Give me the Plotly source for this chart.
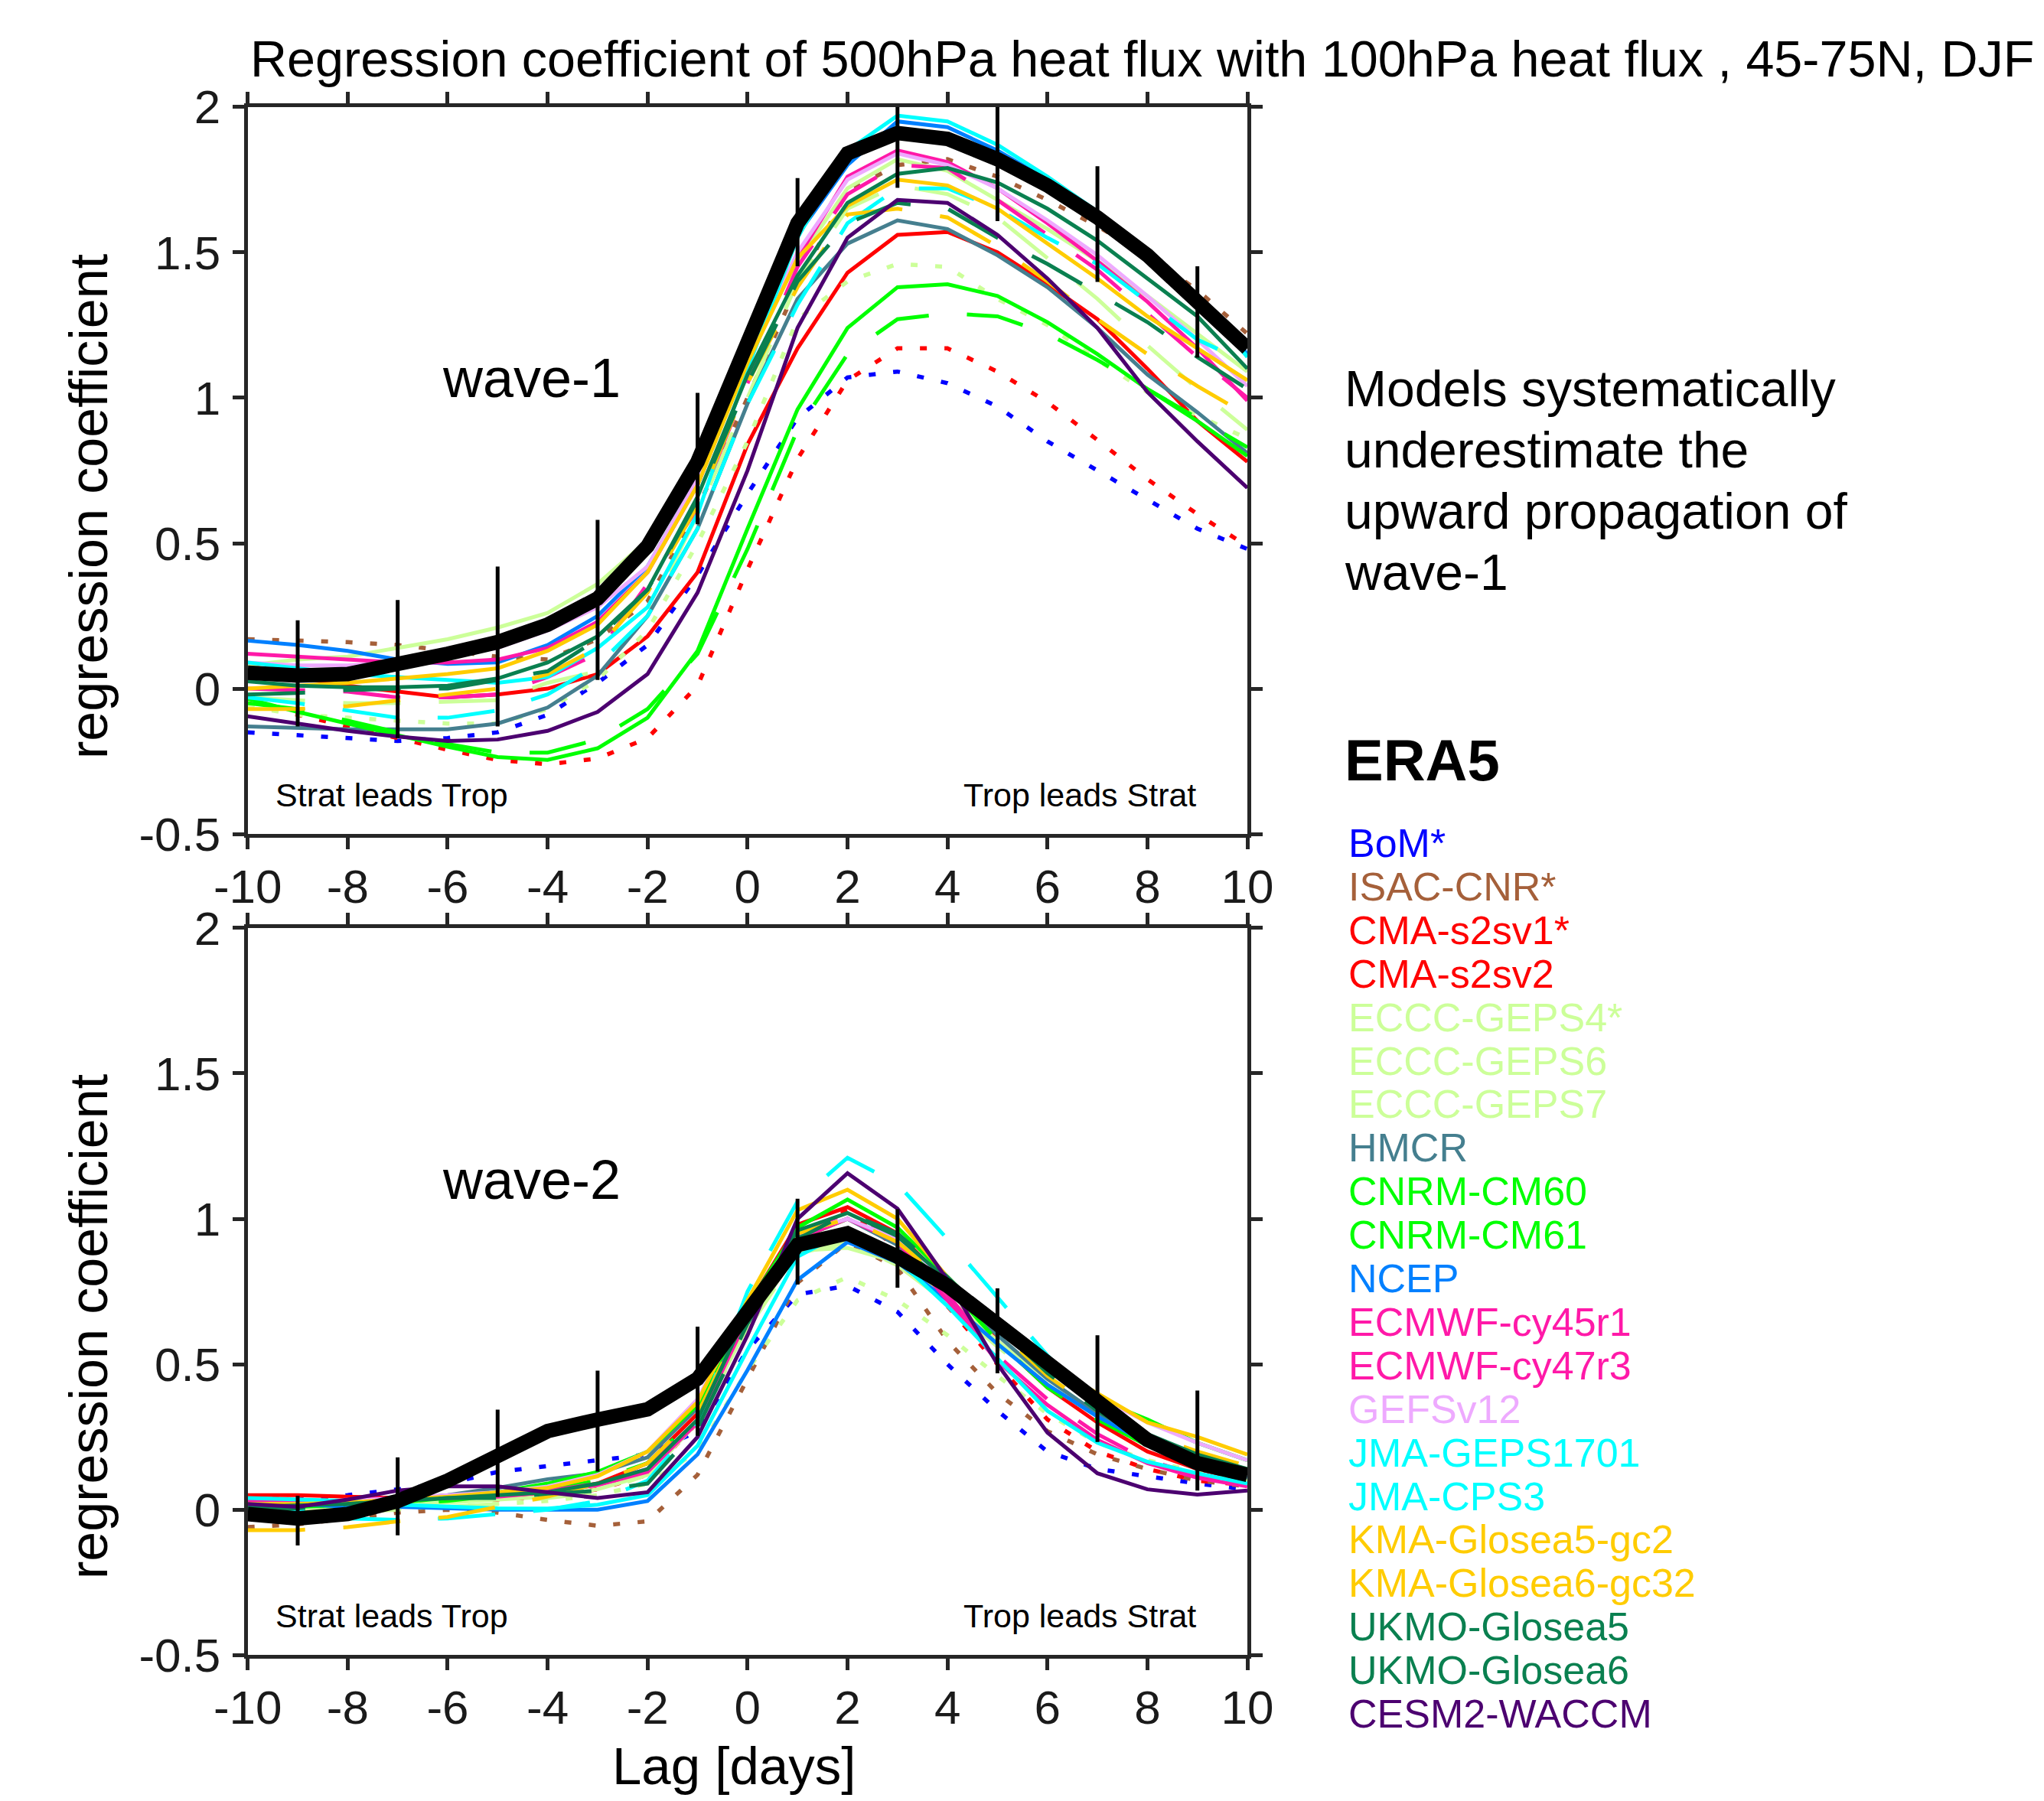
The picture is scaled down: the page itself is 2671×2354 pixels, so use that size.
import plotly.graph_objects as go

W, H = 2671, 2354

# ---------------- data ----------------
lags = list(range(-10, 11))
err_lags = [-9, -7, -5, -3, -1, 1, 3, 5, 7, 9]

model_names = ["BoM*", "ISAC-CNR*", "CMA-s2sv1*", "CMA-s2sv2", "ECCC-GEPS4*", "ECCC-GEPS6",
               "ECCC-GEPS7", "HMCR", "CNRM-CM60", "CNRM-CM61", "NCEP", "ECMWF-cy45r1",
               "ECMWF-cy47r3", "GEFSv12", "JMA-GEPS1701", "JMA-CPS3", "KMA-Glosea5-gc2",
               "KMA-Glosea6-gc32", "UKMO-Glosea5", "UKMO-Glosea6", "CESM2-WACCM"]

# wave-1 (top panel)
era5_w1 = [0.055, 0.045, 0.05, 0.08, 0.12, 0.16, 0.22, 0.31, 0.49, 0.78, 1.18, 1.60, 1.84, 1.91, 1.89, 1.82, 1.73, 1.62, 1.49, 1.33, 1.17]
era5_w1_lo = [-0.13, -0.17, -0.13, 0.03, 0.565, 1.452, 1.722, 1.607, 1.398, 1.138]
era5_w1_hi = [0.235, 0.305, 0.42, 0.58, 1.017, 1.755, 2.0, 2.0, 1.796, 1.452]
bom_w1 = [-0.15, -0.16, -0.17, -0.18, -0.17, -0.15, -0.09, 0.02, 0.15, 0.39, 0.67, 0.93, 1.07, 1.09, 1.05, 0.97, 0.85, 0.75, 0.65, 0.55, 0.48]
isac_w1 = [0.17, 0.165, 0.16, 0.15, 0.13, 0.11, 0.10, 0.17, 0.30, 0.62, 1.00, 1.39, 1.71, 1.80, 1.82, 1.76, 1.68, 1.59, 1.49, 1.37, 1.22]
cma1_w1 = [-0.05, -0.09, -0.13, -0.17, -0.21, -0.245, -0.26, -0.24, -0.17, 0.01, 0.41, 0.79, 1.06, 1.17, 1.17, 1.09, 0.985, 0.855, 0.72, 0.60, 0.49]
cma2_w1 = [0.08, 0.04, 0.01, -0.01, -0.03, -0.02, 0.0, 0.05, 0.18, 0.40, 0.84, 1.17, 1.43, 1.56, 1.57, 1.50, 1.39, 1.27, 1.10, 0.92, 0.78]
geps4_w1 = [-0.06, -0.09, -0.10, -0.11, -0.12, -0.12, -0.07, 0.03, 0.20, 0.50, 0.85, 1.27, 1.40, 1.46, 1.45, 1.34, 1.25, 1.13, 1.02, 0.94, 0.86]
geps6_w1 = [0.08, 0.10, 0.11, 0.14, 0.17, 0.21, 0.26, 0.36, 0.51, 0.80, 1.15, 1.47, 1.72, 1.82, 1.78, 1.68, 1.58, 1.47, 1.35, 1.22, 1.09]
geps7_w1 = [-0.03, -0.04, -0.05, -0.05, -0.045, -0.04, 0.02, 0.06, 0.25, 0.60, 1.00, 1.40, 1.65, 1.73, 1.70, 1.62, 1.48, 1.34, 1.18, 1.03, 0.89]
hmcr_w1 = [-0.13, -0.135, -0.14, -0.14, -0.14, -0.12, -0.065, 0.045, 0.25, 0.55, 0.98, 1.34, 1.53, 1.61, 1.58, 1.49, 1.38, 1.24, 1.08, 0.95, 0.81]
cm60_w1 = [-0.035, -0.08, -0.12, -0.16, -0.20, -0.235, -0.245, -0.205, -0.10, 0.13, 0.55, 0.96, 1.24, 1.38, 1.39, 1.35, 1.26, 1.15, 1.03, 0.92, 0.80]
cm61_w1 = [-0.05, -0.07, -0.11, -0.15, -0.19, -0.22, -0.22, -0.175, -0.07, 0.12, 0.48, 0.89, 1.15, 1.27, 1.29, 1.28, 1.22, 1.13, 1.03, 0.93, 0.83]
ncep_w1 = [0.165, 0.15, 0.13, 0.10, 0.085, 0.09, 0.15, 0.25, 0.42, 0.72, 1.15, 1.56, 1.80, 1.95, 1.93, 1.85, 1.75, 1.63, 1.50, 1.35, 1.15]
ec45_w1 = [0.12, 0.11, 0.10, 0.09, 0.09, 0.10, 0.14, 0.23, 0.40, 0.70, 1.13, 1.48, 1.76, 1.85, 1.81, 1.72, 1.60, 1.47, 1.33, 1.17, 0.99]
ec47_w1 = [0.0, -0.005, -0.01, -0.03, -0.03, -0.02, 0.04, 0.12, 0.36, 0.62, 1.05, 1.45, 1.70, 1.80, 1.79, 1.68, 1.56, 1.44, 1.29, 1.14, 1.00]
gefs_w1 = [0.09, 0.08, 0.08, 0.09, 0.11, 0.14, 0.20, 0.28, 0.42, 0.72, 1.13, 1.50, 1.75, 1.84, 1.80, 1.72, 1.61, 1.49, 1.35, 1.20, 1.04]
jmag_w1 = [-0.03, -0.05, -0.075, -0.10, -0.10, -0.075, -0.02, 0.08, 0.25, 0.55, 0.98, 1.32, 1.60, 1.72, 1.72, 1.65, 1.55, 1.46, 1.33, 1.20, 1.12]
jmac_w1 = [0.09, 0.07, 0.05, 0.04, 0.03, 0.02, 0.04, 0.14, 0.28, 0.60, 1.10, 1.55, 1.85, 1.97, 1.95, 1.87, 1.76, 1.64, 1.51, 1.35, 1.14]
kma5_w1 = [-0.07, -0.07, -0.06, -0.04, -0.02, 0.0, 0.05, 0.14, 0.33, 0.63, 1.05, 1.38, 1.63, 1.65, 1.62, 1.52, 1.40, 1.27, 1.15, 1.04, 0.94]
kma6_w1 = [0.0, 0.01, 0.02, 0.035, 0.05, 0.07, 0.13, 0.22, 0.40, 0.70, 1.12, 1.48, 1.66, 1.75, 1.73, 1.65, 1.53, 1.41, 1.28, 1.17, 1.06]
ukmo5_w1 = [-0.02, -0.015, -0.005, 0.0, 0.0, 0.03, 0.06, 0.17, 0.34, 0.65, 1.05, 1.40, 1.60, 1.67, 1.65, 1.55, 1.46, 1.36, 1.26, 1.14, 1.03]
ukmo6_w1 = [0.025, 0.01, 0.005, 0.005, 0.01, 0.035, 0.09, 0.18, 0.34, 0.66, 1.08, 1.42, 1.67, 1.77, 1.79, 1.74, 1.65, 1.54, 1.41, 1.28, 1.10]
cesm_w1 = [-0.095, -0.12, -0.145, -0.165, -0.18, -0.175, -0.145, -0.08, 0.05, 0.33, 0.75, 1.24, 1.55, 1.68, 1.67, 1.56, 1.41, 1.24, 1.02, 0.85, 0.69]

# wave-2 (bottom panel)
era5_w2 = [-0.015, -0.03, -0.015, 0.03, 0.10, 0.19, 0.27, 0.31, 0.345, 0.45, 0.68, 0.91, 0.95, 0.87, 0.77, 0.64, 0.51, 0.37, 0.24, 0.16, 0.12]
era5_w2_lo = [-0.123, -0.088, 0.044, 0.131, 0.254, 0.774, 0.763, 0.469, 0.233, 0.066]
era5_w2_hi = [0.048, 0.18, 0.344, 0.478, 0.629, 1.069, 1.033, 0.761, 0.60, 0.41]
bom_w2 = [0.03, 0.035, 0.05, 0.07, 0.09, 0.13, 0.15, 0.17, 0.19, 0.27, 0.55, 0.74, 0.77, 0.68, 0.50, 0.34, 0.20, 0.14, 0.115, 0.09, 0.07]
isac_w2 = [-0.06, -0.05, -0.03, -0.01, 0.0, -0.01, -0.035, -0.055, -0.04, 0.12, 0.45, 0.78, 0.92, 0.83, 0.58, 0.40, 0.27, 0.19, 0.14, 0.10, 0.08]
cma1_w2 = [0.04, 0.035, 0.03, 0.03, 0.03, 0.035, 0.045, 0.07, 0.12, 0.30, 0.65, 0.93, 1.03, 0.90, 0.70, 0.50, 0.31, 0.20, 0.14, 0.10, 0.085]
cma2_w2 = [0.05, 0.05, 0.045, 0.04, 0.04, 0.045, 0.06, 0.09, 0.16, 0.33, 0.70, 0.98, 1.04, 0.95, 0.78, 0.58, 0.42, 0.30, 0.20, 0.14, 0.10]
geps4_w2 = [-0.01, -0.01, 0.0, 0.005, 0.01, 0.02, 0.03, 0.05, 0.09, 0.20, 0.48, 0.72, 0.80, 0.72, 0.60, 0.46, 0.33, 0.23, 0.17, 0.13, 0.10]
geps6_w2 = [-0.01, -0.005, 0.005, 0.015, 0.025, 0.035, 0.045, 0.07, 0.12, 0.30, 0.63, 0.89, 0.90, 0.85, 0.73, 0.58, 0.45, 0.33, 0.24, 0.18, 0.14]
geps7_w2 = [0.0, -0.005, -0.01, 0.0, 0.01, 0.02, 0.04, 0.06, 0.12, 0.30, 0.62, 0.88, 0.92, 0.84, 0.71, 0.56, 0.43, 0.32, 0.24, 0.18, 0.14]
hmcr_w2 = [0.02, 0.02, 0.025, 0.035, 0.05, 0.075, 0.105, 0.125, 0.18, 0.35, 0.68, 0.94, 1.00, 0.91, 0.76, 0.60, 0.45, 0.33, 0.23, 0.16, 0.11]
cm60_w2 = [0.01, 0.01, 0.015, 0.025, 0.04, 0.06, 0.09, 0.13, 0.20, 0.36, 0.70, 0.97, 1.066, 0.97, 0.80, 0.63, 0.48, 0.38, 0.31, 0.23, 0.17]
cm61_w2 = [0.0, 0.0, 0.01, 0.02, 0.03, 0.05, 0.07, 0.10, 0.16, 0.32, 0.66, 0.93, 1.00, 0.93, 0.77, 0.58, 0.42, 0.31, 0.22, 0.16, 0.12]
ncep_w2 = [0.03, 0.02, 0.01, 0.01, 0.005, 0.0, 0.0, 0.0, 0.03, 0.19, 0.48, 0.79, 0.92, 0.85, 0.72, 0.57, 0.43, 0.32, 0.23, 0.17, 0.13]
ec45_w2 = [0.03, 0.03, 0.03, 0.035, 0.04, 0.045, 0.06, 0.085, 0.13, 0.30, 0.66, 0.93, 1.00, 0.92, 0.72, 0.51, 0.36, 0.24, 0.16, 0.11, 0.08]
ec47_w2 = [0.03, 0.03, 0.035, 0.04, 0.045, 0.05, 0.065, 0.09, 0.14, 0.32, 0.68, 0.95, 1.02, 0.93, 0.74, 0.53, 0.38, 0.26, 0.17, 0.12, 0.09]
gefs_w2 = [0.02, 0.02, 0.03, 0.04, 0.05, 0.06, 0.08, 0.12, 0.20, 0.38, 0.70, 0.95, 1.00, 0.93, 0.79, 0.63, 0.49, 0.39, 0.30, 0.23, 0.17]
jmag_w2 = [0.02, 0.0, -0.03, -0.035, -0.03, -0.015, 0.0, 0.03, 0.10, 0.30, 0.75, 1.06, 1.21, 1.12, 0.93, 0.73, 0.53, 0.36, 0.24, 0.16, 0.12]
jmac_w2 = [0.04, 0.035, 0.03, 0.017, 0.01, 0.005, 0.004, 0.017, 0.05, 0.22, 0.55, 0.87, 0.96, 0.86, 0.70, 0.52, 0.34, 0.23, 0.165, 0.125, 0.09]
kma5_w2 = [-0.07, -0.07, -0.06, -0.04, -0.025, 0.01, 0.045, 0.09, 0.16, 0.33, 0.68, 0.95, 1.00, 0.92, 0.78, 0.62, 0.46, 0.34, 0.26, 0.20, 0.15]
kma6_w2 = [0.02, 0.02, 0.025, 0.035, 0.045, 0.06, 0.075, 0.115, 0.20, 0.37, 0.72, 1.03, 1.10, 1.00, 0.80, 0.62, 0.50, 0.40, 0.30, 0.25, 0.19]
ukmo5_w2 = [0.0, 0.005, 0.02, 0.03, 0.04, 0.04, 0.055, 0.065, 0.09, 0.28, 0.64, 0.93, 1.02, 0.95, 0.80, 0.63, 0.47, 0.34, 0.24, 0.17, 0.13]
ukmo6_w2 = [0.01, 0.015, 0.02, 0.03, 0.04, 0.05, 0.06, 0.09, 0.14, 0.31, 0.68, 0.96, 1.02, 0.94, 0.79, 0.62, 0.48, 0.36, 0.26, 0.19, 0.14]
cesm_w2 = [0.02, 0.01, 0.035, 0.066, 0.08, 0.08, 0.06, 0.04, 0.06, 0.25, 0.60, 1.00, 1.157, 1.035, 0.79, 0.50, 0.265, 0.125, 0.07, 0.052, 0.066]

x_ticks = [-10, -8, -6, -4, -2, 0, 2, 4, 6, 8, 10]
y_ticks = [-0.5, 0, 0.5, 1, 1.5, 2]
y_tick_text = ["-0.5", "0", "0.5", "1", "1.5", "2"]

# ---------------- styles ----------------
C_BOM, C_ISAC, C_RED, C_ECCC = "#0000FF", "#A5603A", "#FF0000", "#CCFF99"
C_HMCR, C_CNRM, C_NCEP, C_EC = "#457F8F", "#00FF00", "#0080FF", "#FF19A8"
C_GEFS, C_JMA, C_KMA, C_UKMO, C_CESM = "#EEAAFF", "#00FFFF", "#FFCC00", "#0A8050", "#4C0070"
DOT, DASH, SOLID = "9px,23px", "75px,50px", "solid"

series = [
    (bom_w1, bom_w2, C_BOM, DOT),
    (isac_w1, isac_w2, C_ISAC, DOT),
    (cma1_w1, cma1_w2, C_RED, DOT),
    (cma2_w1, cma2_w2, C_RED, SOLID),
    (geps4_w1, geps4_w2, C_ECCC, DOT),
    (geps6_w1, geps6_w2, C_ECCC, SOLID),
    (geps7_w1, geps7_w2, C_ECCC, DASH),
    (hmcr_w1, hmcr_w2, C_HMCR, SOLID),
    (cm60_w1, cm60_w2, C_CNRM, SOLID),
    (cm61_w1, cm61_w2, C_CNRM, DASH),
    (ncep_w1, ncep_w2, C_NCEP, SOLID),
    (ec45_w1, ec45_w2, C_EC, SOLID),
    (ec47_w1, ec47_w2, C_EC, DASH),
    (gefs_w1, gefs_w2, C_GEFS, SOLID),
    (jmag_w1, jmag_w2, C_JMA, DASH),
    (jmac_w1, jmac_w2, C_JMA, SOLID),
    (kma5_w1, kma5_w2, C_KMA, DASH),
    (kma6_w1, kma6_w2, C_KMA, SOLID),
    (ukmo5_w1, ukmo5_w2, C_UKMO, DASH),
    (ukmo6_w1, ukmo6_w2, C_UKMO, SOLID),
    (cesm_w1, cesm_w2, C_CESM, SOLID),
]

FONT = "Liberation Sans, Arial, Helvetica, sans-serif"
AX = "#262626"

fig = go.Figure()

for w1, w2, col, dash in series:
    lw = 5.5 if dash == DOT else 5
    fig.add_trace(go.Scatter(x=lags, y=w1, mode="lines", xaxis="x", yaxis="y",
                             line=dict(color=col, width=lw, dash=dash), showlegend=False,
                             hoverinfo="skip"))
    fig.add_trace(go.Scatter(x=lags, y=w2, mode="lines", xaxis="x2", yaxis="y2",
                             line=dict(color=col, width=lw, dash=dash), showlegend=False,
                             hoverinfo="skip"))


def err_xy(lo, hi):
    xs, ys = [], []
    for lg, a, b in zip(err_lags, lo, hi):
        xs += [lg, lg, None]
        ys += [a, b, None]
    return xs, ys


for era, lo, hi, xa, ya in [(era5_w1, era5_w1_lo, era5_w1_hi, "x", "y"),
                            (era5_w2, era5_w2_lo, era5_w2_hi, "x2", "y2")]:
    fig.add_trace(go.Scatter(x=lags, y=era, mode="lines", xaxis=xa, yaxis=ya,
                             line=dict(color="black", width=19), showlegend=False, hoverinfo="skip"))
    ex, ey = err_xy(lo, hi)
    fig.add_trace(go.Scatter(x=ex, y=ey, mode="lines", xaxis=xa, yaxis=ya,
                             line=dict(color="black", width=5), showlegend=False, hoverinfo="skip"))

# ---------------- layout ----------------
L, R = 323.7, 1630.0
T1, B1 = 139.7, 1090.2
T2, B2 = 1212.8, 2163.4
xdom = [L / W, R / W]
ydom1 = [1 - B1 / H, 1 - T1 / H]
ydom2 = [1 - B2 / H, 1 - T2 / H]

axis_common = dict(showline=True, linewidth=5, linecolor=AX, mirror="ticks", ticks="outside",
                   ticklen=15, tickwidth=5, tickcolor=AX, showgrid=False, zeroline=False,
                   automargin=False,
                   tickfont=dict(family=FONT, size=62, color="#1a1a1a"))

xa = dict(axis_common, range=[-10, 10], tickvals=x_ticks, ticktext=[str(v) for v in x_ticks],
          domain=xdom, ticklabelstandoff=-5)
ya = dict(axis_common, range=[-0.5, 2], tickvals=y_ticks, ticktext=y_tick_text, ticklabelstandoff=3)

ann = []


def txt(x, y, s, size, color="black", xanchor="left", bold=False, angle=0):
    if bold:
        s = "<b>" + s + "</b>"
    ann.append(dict(x=x / W, y=1 - y / H, xref="paper", yref="paper", text=s, showarrow=False,
                    xanchor=xanchor, yanchor="middle", textangle=angle,
                    font=dict(family=FONT, size=size, color=color)))


txt(1492, 77, "Regression coefficient of 500hPa heat flux with 100hPa heat flux , 45-75N, DJF", 66.5,
    xanchor="center")
txt(116, 662, "regression coefficient", 70, xanchor="center", angle=-90)
txt(116, 1734, "regression coefficient", 70, xanchor="center", angle=-90)
txt(959, 2308, "Lag [days]", 69, xanchor="center")
txt(576, 494, "wave-1", 72)
txt(576, 1542, "wave-2", 72)
for yy in (1039, 2112):
    txt(358, yy, "Strat leads Trop", 43)
    txt(1257, yy, "Trop leads Strat", 43)

for i, line in enumerate(["Models systematically", "underestimate the", "upward propagation of", "wave-1"]):
    txt(1755, 508 + 80 * i, line, 66)

txt(1755, 993, "ERA5", 76, bold=True)
for i, (name, s) in enumerate(zip(model_names, series)):
    txt(1760, 1102 + 56.9 * i, name, 52, color=s[2])

fig.update_layout(
    width=W, height=H, margin=dict(l=0, r=0, t=0, b=0, autoexpand=False),
    paper_bgcolor="white", plot_bgcolor="white", showlegend=False,
    xaxis=dict(xa, anchor="y"),
    yaxis=dict(ya, domain=ydom1, anchor="x"),
    xaxis2=dict(xa, anchor="y2"),
    yaxis2=dict(ya, domain=ydom2, anchor="x2"),
    annotations=ann,
)

fig.write_html("out.html", config={"displayModeBar": False},
               post_script="document.body.style.margin='0';document.body.style.overflow='hidden';")
